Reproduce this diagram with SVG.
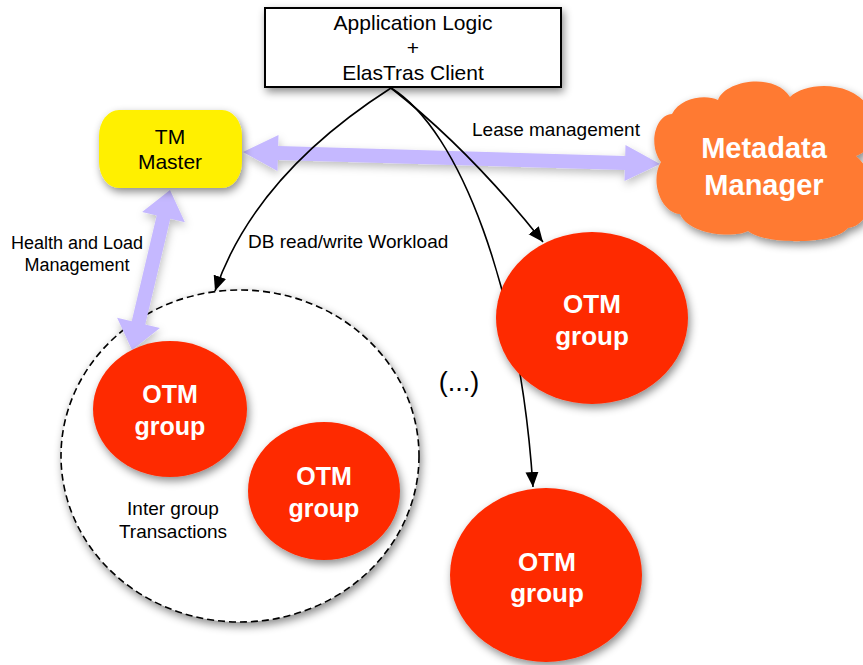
<svg xmlns="http://www.w3.org/2000/svg" width="863" height="665" viewBox="0 0 863 665">
<defs>
<filter id="sh" x="-20%" y="-20%" width="150%" height="150%"><feDropShadow dx="2" dy="4" stdDeviation="4" flood-color="#000" flood-opacity="0.45"/></filter>
<filter id="shl" x="-10%" y="-50%" width="130%" height="250%"><feDropShadow dx="1" dy="4" stdDeviation="4" flood-color="#000" flood-opacity="0.25"/></filter>
<marker id="ah" markerUnits="userSpaceOnUse" markerWidth="16" markerHeight="14" refX="15" refY="6.5" orient="auto"><path d="M0,0 L15,6.5 L0,13 z" fill="#000"/></marker>
<style>
.t{font-family:"Liberation Sans",Arial,sans-serif;fill:#000;text-anchor:middle}
.w{font-family:"Liberation Sans",Arial,sans-serif;fill:#fff;font-weight:bold;text-anchor:middle;font-size:26px}
.otm{fill:#FE2A00;filter:url(#sh)}
.lav{fill:#C5B8FF;filter:url(#shl)}
.conn{fill:none;stroke:#000;stroke-width:1.6;marker-end:url(#ah)}
</style>
</defs>
<rect width="863" height="665" fill="#fff"/>

<g id="cluster">
<ellipse cx="240" cy="456" rx="179" ry="166" fill="#fff" stroke="#000" stroke-width="1.6" stroke-dasharray="7,4" filter="url(#sh)"/>
<text class="t" font-size="19" x="173" y="515">Inter group</text>
<text class="t" font-size="19" x="173" y="538">Transactions</text>
</g>

<g id="connectors">
<polygon class="lav" points="243,152 278.5,135 278.2,146 625.2,156 625.5,145 660,164 624.5,181 624.8,170 277.8,160 277.5,171"/>
<polygon class="lav" points="170,190 184.9,222.3 170.3,218.8 145.3,324.4 159.9,327.9 132,350 117.1,317.7 131.7,321.2 156.7,215.6 142.1,212.1"/>
<path class="conn" d="M391,88 Q255,175 215,291"/>
<path class="conn" d="M391,88 Q470,150 543,242"/>
<path class="conn" d="M391,88 C460,130 520,290 533,487"/>
<text class="t" font-size="19" x="248" y="248" text-anchor="start" style="text-anchor:start">DB read/write Workload</text>
<text class="t" font-size="19" x="472" y="136" style="text-anchor:start">Lease management</text>
<text class="t" font-size="18" x="77" y="249">Health and Load</text>
<text class="t" font-size="18" x="77" y="271">Management</text>
</g>

<g id="app">
<rect x="265" y="8" width="296" height="79" fill="#fff" stroke="#000" stroke-width="2" filter="url(#sh)"/>
<text class="t" font-size="21" x="413" y="30">Application Logic</text>
<text class="t" font-size="21" x="413" y="55">+</text>
<text class="t" font-size="21" x="413" y="80">ElasTras Client</text>
</g>

<g id="tm-master">
<rect x="99" y="110" width="143" height="78" rx="20" ry="26" fill="#FFF000" filter="url(#sh)"/>
<text class="t" font-size="21" x="170" y="144">TM</text>
<text class="t" font-size="21" x="170" y="169">Master</text>
</g>

<g id="metadata-manager">
<path d="M680,214 C660,212 650,180 661,162 C648,145 655,115 672,114 C680,98 705,94 718,100 C725,80 775,72 790,97 C805,82 850,80 868,106 C885,120 875,150 856,156 C880,175 875,225 848,228 C835,245 765,245 748,231 C735,238 690,236 680,214 Z" fill="#FF7A33" filter="url(#sh)"/>
<text class="w" font-size="29" style="font-size:29px" x="764" y="158">Metadata</text>
<text class="w" style="font-size:29px" x="764" y="195">Manager</text>
</g>

<g id="otm1">
<ellipse class="otm" cx="170" cy="409" rx="77" ry="68"/>
<text class="w" style="font-size:25px" x="170" y="403">OTM</text>
<text class="w" style="font-size:25px" x="170" y="435">group</text>
</g>

<g id="otm2">
<ellipse class="otm" cx="324" cy="491" rx="76" ry="69"/>
<text class="w" style="font-size:25px" x="324" y="485">OTM</text>
<text class="w" style="font-size:25px" x="324" y="517">group</text>
</g>

<g id="otm3">
<ellipse class="otm" cx="592" cy="318" rx="96" ry="86"/>
<text class="w" x="592" y="313">OTM</text>
<text class="w" x="592" y="345">group</text>
</g>

<g id="otm4">
<ellipse class="otm" cx="546" cy="575" rx="96" ry="87"/>
<text class="w" x="547" y="571">OTM</text>
<text class="w" x="547" y="602">group</text>
</g>

<g id="ellipsis">
<text class="t" font-size="27" x="459" y="391">(...)</text>
</g>
</svg>
